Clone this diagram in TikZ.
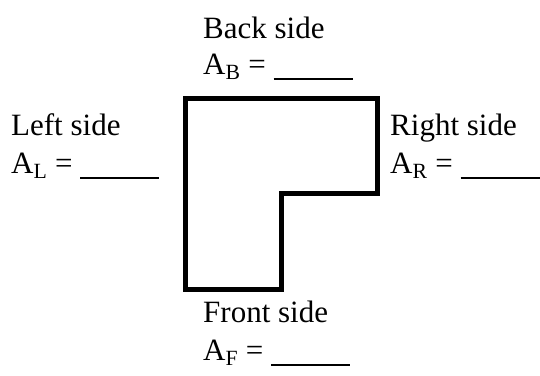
\documentclass[tikz,border=0pt]{standalone}
\usepackage{fontspec}
\setmainfont{Liberation Serif}
\usetikzlibrary{positioning}
\newcommand{\blankline}{\rule[-6pt]{79pt}{2pt}}

\begin{document}
\begin{tikzpicture}[x=1pt,y=-1pt,
    sidetext/.style={anchor=base west,inner sep=0pt,font=\fontsize{31}{37}\selectfont}]
  \useasboundingbox (0,0) rectangle (540,375);
  % L-shaped outline
  \draw[line width=5.5pt,miter limit=4] (185.5,98.5) -- (377.7,98.5) -- (377.7,193.7)
    -- (281.3,193.7) -- (281.3,289.3) -- (185.5,289.3) -- cycle;
  % Back side
  \node[sidetext] (backT) at (203,38) {Back side};
  \node[sidetext] (backA) at (203,74) {A\textsubscript{B} = \blankline};
  % Left side
  \node[sidetext] (leftT) at (11,135) {Left side};
  \node[sidetext] (leftA) at (11,173) {A\textsubscript{L} = \blankline};
  % Right side
  \node[sidetext] (rightT) at (390,135) {Right side};
  \node[sidetext] (rightA) at (390,173) {A\textsubscript{R} = \blankline};
  % Front side
  \node[sidetext] (frontT) at (203,322) {Front side};
  \node[sidetext] (frontA) at (203,360) {A\textsubscript{F} = \blankline};
\end{tikzpicture}
\end{document}
